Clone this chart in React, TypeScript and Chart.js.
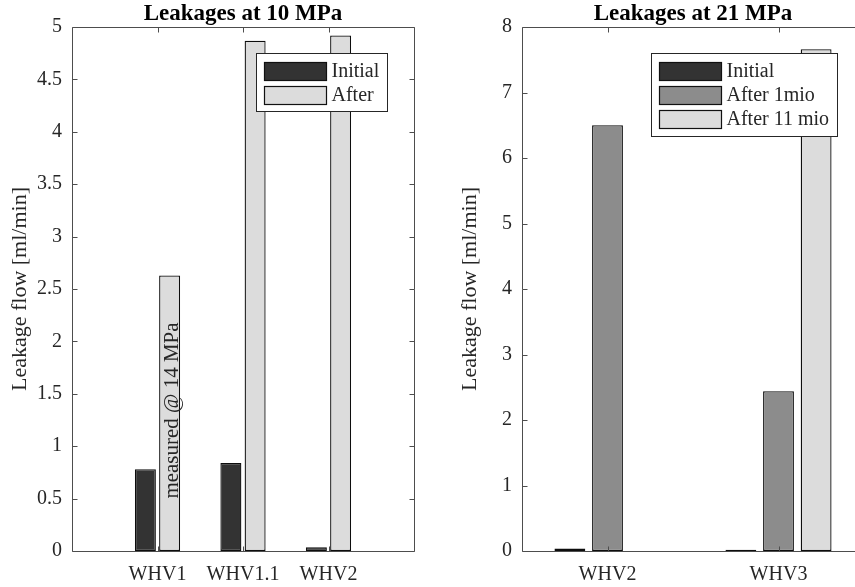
import React, { useEffect, useRef } from 'react';
import { Chart, registerables } from 'chart.js';

Chart.register(...registerables);

// ---------- data ----------
const leftCategories = ['WHV1', 'WHV1.1', 'WHV2'];
const leftInitial = [0.78, 0.84, 0.035];
const leftAfter = [2.63, 4.87, 4.92];

const rightCategories = ['WHV2', 'WHV3'];
const rightInitial = [0.04, 0.02];
const rightAfter1mio = [6.5, 2.44];
const rightAfter11mio = [0, 7.66];

const leftTitle = 'Leakages at 10 MPa';
const rightTitle = 'Leakages at 21 MPa';
const yLabel = 'Leakage flow [ml/min]';
const noteText = 'measured @ 14 MPa';
const noteValue = 0.5;

// ---------- style ----------
const FONT = '"Liberation Serif", "Times New Roman", serif';
const TEXT = '#262626';
const AXIS = '#4d4d4d';
const C_INITIAL = '#333333';
const C_AFTER1 = '#8c8c8c';
const C_AFTER = '#dcdcdc';

const fmt = (v: number) => String(Number(Number(v).toFixed(3)));

const boxPlugin = {
  id: 'matlabBox',
  afterDatasetsDraw(chart: any) {
    const { ctx, chartArea: a, scales } = chart;
    const xs = scales.x;
    const ys = scales.y;
    const L = Math.round(a.left) + 0.5;
    const R = Math.round(a.right) + 0.5;
    const T = Math.round(a.top) + 0.5;
    const B = Math.round(a.bottom) + 0.5;
    const tl = 5;
    ctx.save();
    ctx.strokeStyle = AXIS;
    ctx.lineWidth = 1;
    ctx.beginPath();
    ctx.rect(L, T, R - L, B - T);
    ys.ticks.forEach((t: any) => {
      const p = Math.round(ys.getPixelForValue(t.value)) + 0.5;
      ctx.moveTo(L, p);
      ctx.lineTo(L + tl, p);
      ctx.moveTo(R, p);
      ctx.lineTo(R - tl, p);
    });
    xs.ticks.forEach((t: any) => {
      const p = Math.round(xs.getPixelForValue(t.value)) + 0.5;
      ctx.moveTo(p, B);
      ctx.lineTo(p, B - tl);
      ctx.moveTo(p, T);
      ctx.lineTo(p, T + tl);
    });
    ctx.stroke();
    ctx.restore();
  },
};

const legendPlugin = {
  id: 'boxLegend',
  afterDraw(chart: any) {
    const { ctx, chartArea: a } = chart;
    const ds = chart.data.datasets;
    ctx.save();
    ctx.font = `20px ${FONT}`;
    const tw = Math.max(...ds.map((d: any) => ctx.measureText(d.label).width));
    const rowH = 24.3;
    const w = 8 + 62 + 6 + tw + 7;
    const h = 8 + 18 + (ds.length - 1) * rowH + 8;
    const bx = Math.round(a.right - 27 - w) + 0.5;
    const by = Math.round(a.top + 26) + 0.5;
    ctx.fillStyle = '#ffffff';
    ctx.fillRect(bx, by, w, h);
    ctx.strokeStyle = '#262626';
    ctx.lineWidth = 1;
    ctx.strokeRect(bx, by, Math.round(w), Math.round(h));
    ds.forEach((d: any, i: number) => {
      const sy = Math.round(by + 8 + i * rowH);
      ctx.fillStyle = d.backgroundColor;
      ctx.fillRect(bx + 8, sy, 62, 18);
      ctx.strokeStyle = '#111111';
      ctx.lineWidth = 1.2;
      ctx.strokeRect(bx + 8, sy + 0.5, 62, 18);
      ctx.fillStyle = TEXT;
      ctx.textBaseline = 'middle';
      ctx.textAlign = 'left';
      ctx.fillText(d.label, bx + 75, sy + 10);
    });
    ctx.restore();
  },
};

const notePlugin = {
  id: 'barNote',
  afterDatasetsDraw(chart: any, _args: any, opts: any) {
    if (!opts || !opts.text) return;
    const { ctx, scales } = chart;
    const meta = chart.getDatasetMeta(opts.dataset);
    const bar = meta.data[opts.index];
    if (!bar) return;
    const x = bar.x + 8.5;
    const y = scales.y.getPixelForValue(opts.value);
    ctx.save();
    ctx.translate(x, y);
    ctx.rotate(-Math.PI / 2);
    ctx.font = `21px ${FONT}`;
    ctx.fillStyle = TEXT;
    ctx.textAlign = 'left';
    ctx.textBaseline = 'alphabetic';
    ctx.fillText(opts.text, 0, 0);
    ctx.restore();
  },
};

function makeConfig(
  categories: string[],
  datasets: { label: string; values: number[]; color: string }[],
  title: string,
  xMin: number,
  xMax: number,
  yMax: number,
  yStep: number,
  catPct: number,
  barPct: number,
  note: any
) {
  return {
    type: 'bar',
    data: {
      datasets: datasets.map((d) => ({
        label: d.label,
        data: d.values.map((v, i) => ({ x: i + 1, y: v })),
        backgroundColor: d.color,
        borderColor: '#0d0d0d',
        borderWidth: 1.3,
        borderSkipped: false,
        categoryPercentage: catPct,
        barPercentage: barPct,
      })),
    },
    options: {
      responsive: false,
      animation: false,
      layout: { padding: { left: 0, right: 26, top: 0.6, bottom: 0 } },
      plugins: {
        legend: { display: false },
        tooltip: { enabled: false },
        title: {
          display: true,
          text: title,
          fullSize: false,
          color: '#000',
          font: { family: FONT, size: 23, weight: 'bold', lineHeight: 1.15 },
          padding: { top: 0, bottom: 0 },
        },
        barNote: note,
      },
      scales: {
        x: {
          type: 'linear',
          min: xMin,
          max: xMax,
          offset: false,
          grid: { display: false, drawTicks: false, offset: false },
          border: { display: false },
          afterBuildTicks: (s: any) => {
            s.ticks = categories.map((_, i) => ({ value: i + 1 }));
          },
          ticks: {
            autoSkip: false,
            maxRotation: 0,
            padding: 12,
            color: TEXT,
            font: { family: FONT, size: 20 },
            callback: (v: number) => categories[Math.round(v) - 1] ?? '',
          },
          afterFit: (s: any) => {
            s.height = 36;
          },
        },
        y: {
          type: 'linear',
          min: 0,
          max: yMax,
          grid: { display: false, drawTicks: false },
          border: { display: false },
          ticks: {
            stepSize: yStep,
            padding: 10,
            color: TEXT,
            font: { family: FONT, size: 20 },
            callback: (v: number) => fmt(v),
          },
          title: {
            display: true,
            text: yLabel,
            color: TEXT,
            font: { family: FONT, size: 22 },
            padding: { top: 7, bottom: 0 },
          },
          afterFit: (s: any) => {
            s.width = 72;
          },
        },
      },
    },
    plugins: [boxPlugin, legendPlugin, notePlugin],
  };
}

function ChartBox({ config, left }: { config: any; left: number }) {
  const ref = useRef<HTMLCanvasElement | null>(null);
  useEffect(() => {
    if (!ref.current) return;
    const chart = new Chart(ref.current, config);
    return () => chart.destroy();
  }, []);
  return (
    <div style={{ position: 'absolute', left, top: 0, width: 440, height: 587 }}>
      <canvas ref={ref} width={440} height={587} style={{ display: 'block', width: 440, height: 587 }} />
    </div>
  );
}

export default function App() {
  const leftConfig = makeConfig(
    leftCategories,
    [
      { label: 'Initial', values: leftInitial, color: C_INITIAL },
      { label: 'After', values: leftAfter, color: C_AFTER },
    ],
    leftTitle,
    0,
    4,
    5,
    0.5,
    0.567,
    0.866,
    { text: noteText, dataset: 1, index: 0, value: noteValue }
  );
  const rightConfig = makeConfig(
    rightCategories,
    [
      { label: 'Initial', values: rightInitial, color: C_INITIAL },
      { label: 'After 1mio', values: rightAfter1mio, color: C_AFTER1 },
      { label: 'After 11 mio', values: rightAfter11mio, color: C_AFTER },
    ],
    rightTitle,
    0.5,
    2.5,
    8,
    1,
    0.66,
    0.82,
    null
  );
  return (
    <div
      style={{
        position: 'fixed',
        left: 0,
        top: 0,
        width: 855,
        height: 587,
        overflow: 'hidden',
        background: '#ffffff',
      }}
    >
      <ChartBox config={leftConfig} left={0} />
      <ChartBox config={rightConfig} left={450} />
    </div>
  );
}
